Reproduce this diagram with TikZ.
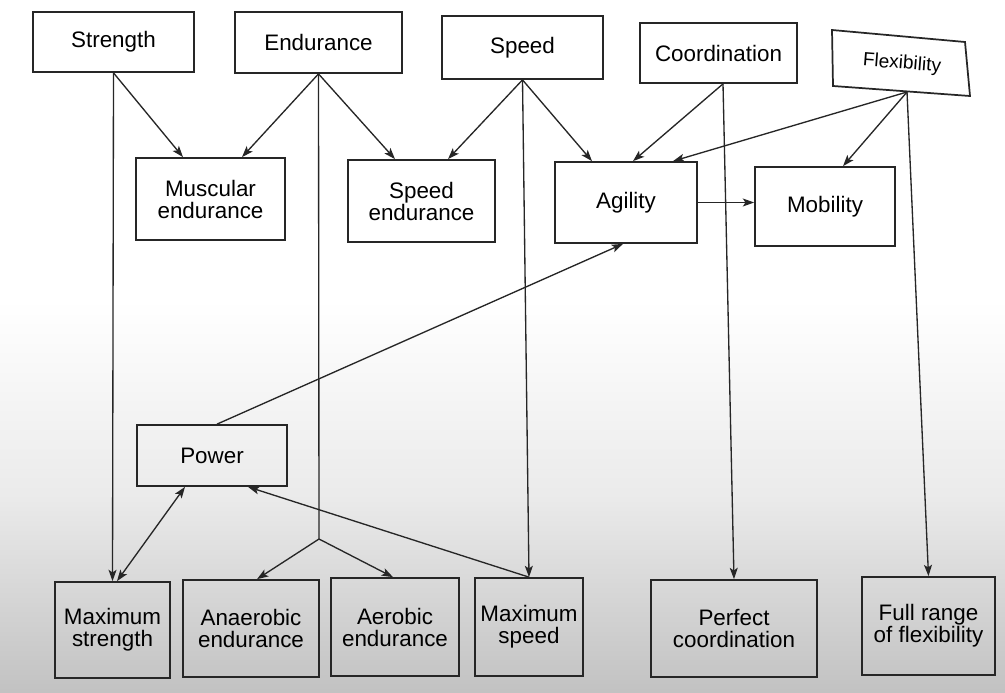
\documentclass[tikz,border=0pt]{standalone}
\usepackage{fontspec}
\setmainfont{Liberation Sans}
\usetikzlibrary{arrows.meta,calc}
\begin{document}
\begin{tikzpicture}[x=0.75pt,y=-0.75pt,
  tip/.tip={Stealth[length=8.5pt,width=6pt,inset=2pt]},
  box/.style={draw=black!85,line width=1.3pt,inner sep=0pt,align=center,
    font=\fontsize{16.8}{16.5}\selectfont},
  conn/.style={draw=black!85,line width=1pt,-tip},
  plain/.style={draw=black!85,line width=1pt},
  both/.style={draw=black!85,line width=1pt,tip-tip}]
\useasboundingbox (0,0) rectangle (1005,692);
\fill[white] (0,0) rectangle (1005,692);
\shade[top color=white,bottom color=black!24,middle color=black!8] (0,300) rectangle (1005,692);

% top row
\node[box,minimum width=120.75pt,minimum height=45pt] (strength) at (113.5,42) {Strength};
\node[box,minimum width=125.25pt,minimum height=45.75pt] (endurance) at (318.5,42.5) {Endurance};
\node[box,minimum width=120.75pt,minimum height=47.25pt] (speed) at (522.5,47.5) {Speed};
\node[box,minimum width=117.75pt,minimum height=45pt] (coord) at (718.5,53) {Coordination};
\node[font=\fontsize{14.3}{16}\selectfont,rotate=-4.5,inner sep=0pt] (flex) at (902,64) {Flexibility};
\coordinate (f1) at (832,30);
\coordinate (f2) at (965,42);
\coordinate (f3) at (970,96);
\coordinate (f4) at (833,86);
\draw[black!85,line width=1.3pt] (f1) -- (f2) -- (f3) -- (f4) -- cycle;
\coordinate (flexout) at (907,92);

% second row
\node[box,minimum width=111.75pt,minimum height=61.5pt] (mus) at (210.5,199) {Muscular\\endurance};
\node[box,minimum width=110.25pt,minimum height=61.5pt] (spend) at (421.5,201) {Speed\\endurance};
\node[box,minimum width=106.5pt,minimum height=60.75pt] (agility) at (626,202.5) {Agility};
\node[box,minimum width=105pt,minimum height=59.25pt] (mobility) at (825,206.5) {Mobility};

% power
\node[box,minimum width=112.5pt,minimum height=45.75pt] (power) at (212,455.5) {Power};

% bottom row
\node[box,minimum width=86.25pt,minimum height=72pt] (maxstr) at (112.5,630) {Maximum\\strength};
\node[box,minimum width=102pt,minimum height=72.75pt] (anaer) at (251,628.5) {Anaerobic\\endurance};
\node[box,minimum width=96pt,minimum height=73.5pt] (aer) at (395,627) {Aerobic\\endurance};
\node[box,minimum width=81pt,minimum height=73.5pt] (maxspeed) at (529,627) {Maximum\\speed};
\node[box,minimum width=124.5pt,minimum height=72.75pt] (perfect) at (734,628.5) {Perfect\\coordination};
\node[box,minimum width=99.75pt,minimum height=73.5pt] (fullrange) at (928.5,626) {Full range\\of flexibility};

\coordinate (split) at (319,539);
\coordinate (coordout) at ($(coord.south)+(4.5,0)$);

% connectors
\draw[conn] (strength.south) -- ($(mus.north)+(-27.5,0)$);
\draw[conn] (strength.south) -- (maxstr.north);
\draw[conn] (endurance.south) -- ($(mus.north)+(31.5,0)$);
\draw[conn] (endurance.south) -- ($(spend.north)+(-26.5,0)$);
\draw[plain] (endurance.south) -- (split);
\draw[conn] (split) -- ($(anaer.north)+(6,0)$);
\draw[conn] (split) -- ($(aer.north)+(-2,0)$);
\draw[conn] (speed.south) -- ($(spend.north)+(26.5,0)$);
\draw[conn] (speed.south) -- ($(agility.north)+(-34,0)$);
\draw[conn] (speed.south) -- (maxspeed.north);
\draw[conn] (coordout) -- ($(agility.north)+(7,0)$);
\draw[conn] (coordout) -- (perfect.north);
\draw[conn] (flexout) -- ($(agility.north)+(47,0)$);
\draw[conn] (flexout) -- ($(mobility.north)+(18,0)$);
\draw[conn] (flexout) -- (fullrange.north);
\draw[conn] (agility.east) -- (agility.east -| mobility.west);
\draw[both] ($(maxstr.north)+(4.5,0)$) -- ($(power.south)+(-27,0)$);
\draw[conn] (maxspeed.north) -- ($(power.south)+(36,0)$);
\draw[conn] ($(power.north)+(5,0)$) -- ($(agility.south)+(-3,0)$);
\end{tikzpicture}
\end{document}
